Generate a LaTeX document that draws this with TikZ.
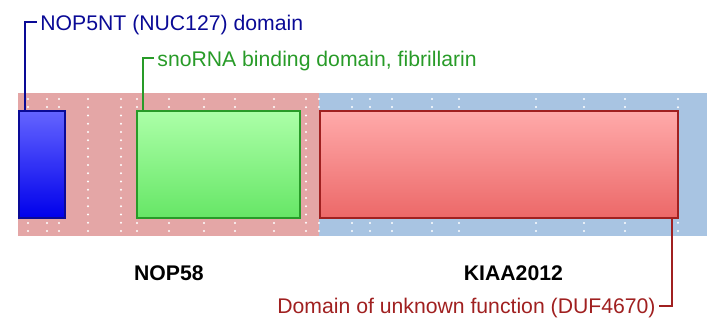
\documentclass[tikz,border=0pt]{standalone}
\usepackage{fontspec}
\setmainfont{Liberation Sans}
\usepackage{tikz}
\usetikzlibrary{positioning}
\definecolor{bandred}{RGB}{228,166,166}
\definecolor{bandblue}{RGB}{168,196,226}
\definecolor{navy}{RGB}{10,10,150}
\definecolor{leaf}{RGB}{40,155,40}
\definecolor{brick}{RGB}{160,32,32}

\begin{document}
\begin{tikzpicture}[x=0.5pt,y=-0.5pt,
   font=\fontsize{10.6}{12}\selectfont,
   band/.style={fill=#1,inner sep=0pt,minimum height=71.5pt,anchor=north west},
   dom/.style={draw=#1,line width=1pt,inner sep=0pt,minimum height=53.5pt,anchor=north west},
   lab/.style={inner sep=1.5pt,text height=7.6pt,text depth=0pt},
   lead/.style={draw=#1,line width=1pt},
   dot/.style={white}]
  \useasboundingbox (0,0) rectangle (707,326);
  % protein bands
  \node[band=bandred,minimum width=150.5pt] (nop58) at (18,93) {};
  \node[band=bandblue,minimum width=194pt] (kiaa) at (319,93) {};
  % dotted guides
  \foreach \x in {28,47,59,137,169,204,235,274,319,352,370,392,432,459,536,584,625}{
    \foreach \y in {99,107,223,231}
      \fill[dot] (\x,\y) circle (0.6pt);
  }
  \foreach \x in {88,121,306,678}{
    \foreach \k in {0,...,16}
      \fill[dot] (\x,99+8.25*\k) circle (0.6pt);
  }
  % domains
  \node[dom=navy,top color={rgb,255:red,100;green,100;blue,255},
        bottom color={rgb,255:red,0;green,0;blue,235},minimum width=23pt] (nop5nt) at (18,110) {};
  \node[dom=leaf,top color={rgb,255:red,172;green,255;blue,168},
        bottom color={rgb,255:red,102;green,230;blue,102},minimum width=81.5pt] (snorna) at (136,110) {};
  \node[dom=brick,top color={rgb,255:red,255;green,170;blue,170},
        bottom color={rgb,255:red,236;green,104;blue,104},minimum width=179pt] (duf) at (319,110) {};
  % domain labels
  \node[lab,anchor=west,text=navy] (lnop5nt) at (37,22.5) {NOP5NT (NUC127) domain};
  \node[lab,anchor=west,text=leaf] (lsnorna) at (154,58.5) {snoRNA binding domain, fibrillarin};
  \node[lab,anchor=east,text=brick] (lduf) at (659,306) {Domain of unknown function (DUF4670)};
  \draw[lead=navy] ([xshift=3.5pt]nop5nt.north west) |- (lnop5nt.west);
  \draw[lead=leaf] ([xshift=3.5pt]snorna.north west) |- (lsnorna.west);
  \draw[lead=brick] ([xshift=-3.5pt]duf.south east) |- (lduf.east);
  % protein names
  \node[lab,font=\fontsize{10.6}{12}\selectfont\bfseries,below=12.5pt of nop58] (lnop58) {NOP58};
  \node[lab,font=\fontsize{10.6}{12}\selectfont\bfseries,below=12.5pt of kiaa] (lkiaa) {KIAA2012};
\end{tikzpicture}
\end{document}
